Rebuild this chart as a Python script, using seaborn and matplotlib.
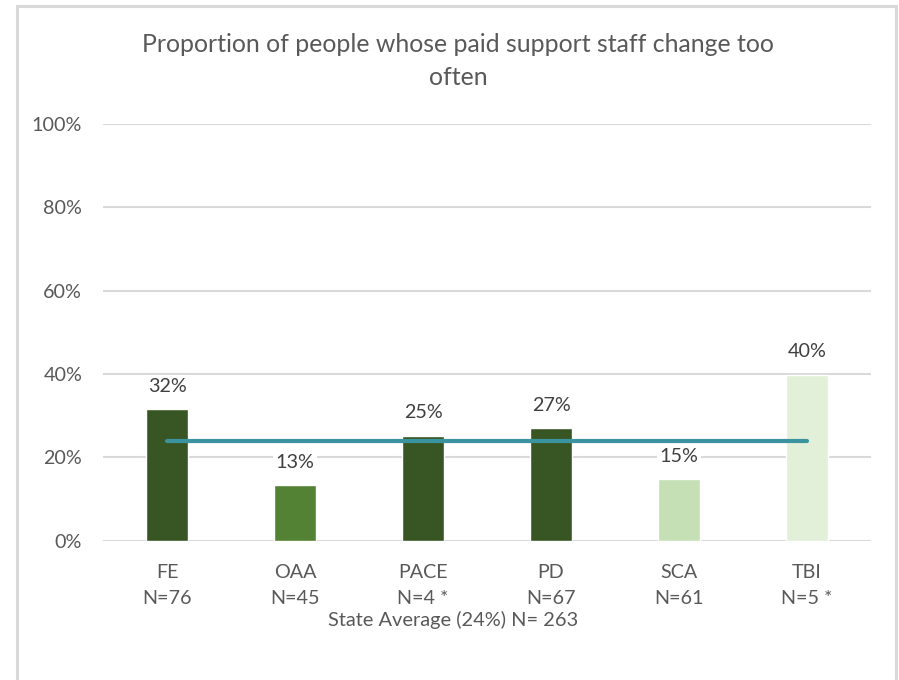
import matplotlib
matplotlib.use("Agg")
import matplotlib.pyplot as plt
from matplotlib.patches import Rectangle
import seaborn as sns
import pandas as pd

# Program data
programs = ["FE", "OAA", "PACE", "PD", "SCA", "TBI"]
sample_sizes = ["N=76", "N=45", "N=4 *", "N=67", "N=61", "N=5 *"]
percent_values = [31.5, 13.3, 25.1, 26.9, 14.7, 39.8]
bar_colors = ["#375623", "#548235", "#375623", "#375623", "#C5E0B4", "#E2F0D9"]
state_average = 24
state_n = 263

title_text = "Proportion of people whose paid support staff change too\noften"
y_ticks = [0, 20, 40, 60, 80, 100]

sns.set_theme(style="white")
plt.rcParams["font.family"] = ["Lato", "DejaVu Sans"]

text_gray = "#595959"
grid_gray = "#D9D9D9"

df = pd.DataFrame({
    "label": [f"{p}\n{n}" for p, n in zip(programs, sample_sizes)],
    "value": percent_values,
})

fig = plt.figure(figsize=(8.99, 6.8), dpi=100)
ax = fig.add_axes([103 / 899, 1 - 540.5 / 680, 768 / 899, (540.5 - 124) / 680])

sns.barplot(data=df, x="label", y="value", hue="label", palette=bar_colors,
            width=0.33, legend=False, ax=ax, saturation=1, zorder=2)

# State average reference line across the programs
ax.plot([0, len(programs) - 1], [state_average, state_average],
        color="#3A939E", lw=3, solid_capstyle="round", zorder=3)

# Value labels
for i, v in enumerate(percent_values):
    ax.annotate(f"{round(v):d}%", xy=(i, v), xytext=(0, 23),
                textcoords="offset pixels", ha="center", va="center",
                fontsize=14.2, color="#404040", zorder=4,
                bbox=dict(boxstyle="square,pad=0.15", fc="white", ec="none"))

ax.set_xlim(-0.5, len(programs) - 0.5)
ax.set_ylim(0, 100)
ax.set_yticks(y_ticks)
ax.set_yticklabels([f"{t}%" for t in y_ticks])
ax.yaxis.grid(True, color=grid_gray, lw=1.5, zorder=0)
ax.set_axisbelow(True)
for s in ax.spines.values():
    s.set_visible(False)
ax.tick_params(axis="y", length=0, pad=15, labelsize=14.2, labelcolor=text_gray)
ax.tick_params(axis="x", length=0, pad=17, labelsize=14.2, labelcolor=text_gray)
for lbl in ax.get_xticklabels():
    lbl.set_linespacing(1.62)
ax.set_xlabel("")
ax.set_ylabel("")

fig.text(453 / 899, 1 - 620 / 680, f"State Average ({state_average}%) N= {state_n}",
         ha="center", va="center", fontsize=14.4, color=text_gray)

fig.text(458 / 899, 1 - 61 / 680, title_text, ha="center", va="center",
         fontsize=17.9, color=text_gray, linespacing=1.5)

# Chart frame (open at the bottom edge)
fig.patches.append(Rectangle((17 / 899, -0.05), (896 - 17) / 899, 1.05 - 6 / 680,
                             transform=fig.transFigure, fill=False,
                             ec=grid_gray, lw=2.2))

fig.savefig("out.png", dpi=100, facecolor="white")
